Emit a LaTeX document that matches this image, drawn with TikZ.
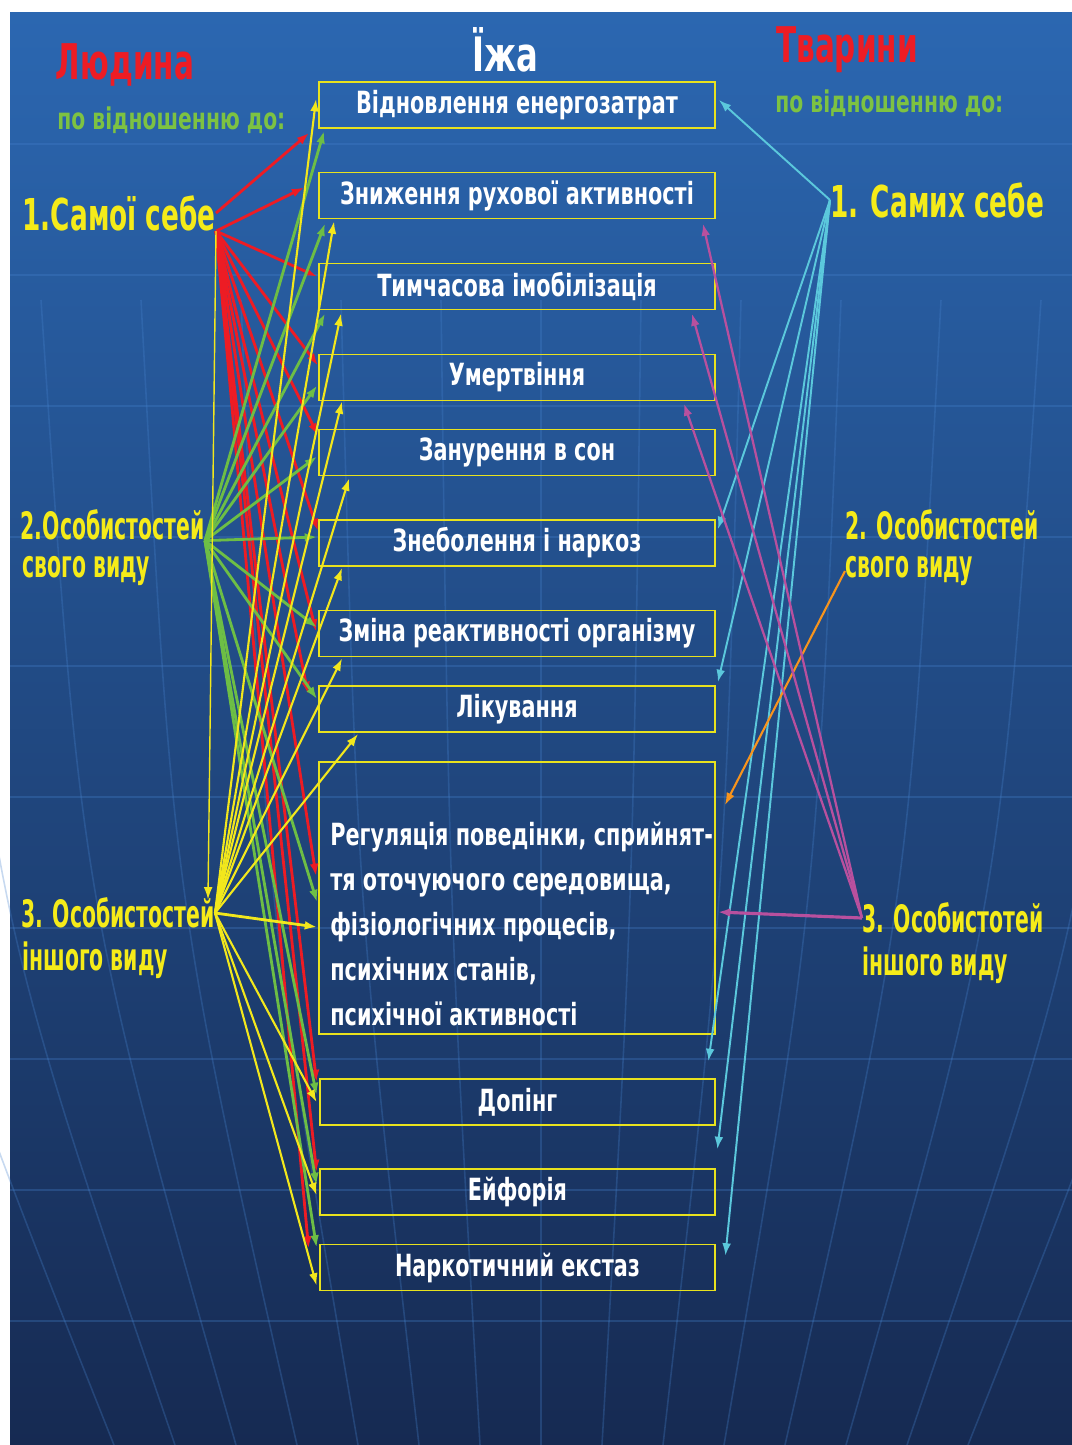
\documentclass[tikz,border=0pt]{standalone}
\usepackage{fontspec}
\setmainfont{DejaVu Sans}[FakeStretch=0.68]
\newfontfamily\narrowfont{DejaVu Sans}[FakeStretch=0.6]
\newfontfamily\slimfont{DejaVu Sans}[FakeStretch=0.54]
\usetikzlibrary{arrows.meta,calc}

\definecolor{bgtop}{RGB}{43,103,177}
\definecolor{bgmid}{RGB}{16,78,155}
\definecolor{bgbot}{RGB}{22,42,82}
\definecolor{gridblue}{RGB}{70,130,205}
\definecolor{boxline}{RGB}{232,226,30}
\definecolor{labyellow}{RGB}{245,235,25}
\definecolor{hdrred}{RGB}{237,28,36}
\definecolor{subgreen}{RGB}{125,194,66}
\definecolor{arrred}{RGB}{237,28,36}
\definecolor{arrgreen}{RGB}{109,190,69}
\definecolor{arryellow}{RGB}{242,231,28}
\definecolor{arrcyan}{RGB}{91,200,220}
\definecolor{arrmag}{RGB}{184,80,158}
\definecolor{arrorange}{RGB}{247,148,29}

\begin{document}
\begin{tikzpicture}[
    x=0.02cm, y=-0.02cm,
    >={Latex[length=7pt,width=5pt]},
    box/.style={rectangle, draw=boxline, line width=1.1pt, minimum width=7.92cm, minimum height=0.92cm, text=white, font=\bfseries\fontsize{17.4}{20}\selectfont},
    boxtext/.style={text=white, align=left, inner sep=0pt, font=\bfseries\fontsize{17.4}{25.6}\selectfont},
    title/.style={text=white, inner sep=0pt, font=\bfseries\fontsize{27}{30}\selectfont},
    hdr/.style={text=hdrred, inner sep=0pt, font=\narrowfont\bfseries\fontsize{28}{30}\selectfont},
    sub/.style={text=subgreen, inner sep=0pt, anchor=west, font=\bfseries\fontsize{17}{19}\selectfont},
    who/.style={text=labyellow, inner sep=0pt, font=\slimfont\bfseries\fontsize{21.5}{25}\selectfont},
    bigwho/.style={who, font=\narrowfont\bfseries\fontsize{25}{28}\selectfont},
    gridline/.style={gridblue, line width=0.9pt, opacity=0.3},
    redarr/.style={->, draw=arrred, line width=1.6pt},
    greenarr/.style={->, draw=arrgreen, line width=1.6pt},
    yelarr/.style={->, draw=arryellow, line width=1.2pt},
    cyanarr/.style={->, draw=arrcyan, line width=1.1pt},
    magarr/.style={->, draw=arrmag, line width=1.3pt},
    orgarr/.style={->, draw=arrorange, line width=1.2pt}
]
\useasboundingbox (0,0) rectangle (1072,1445);

% background
\shade[top color=bgtop, middle color=bgmid, bottom color=bgbot] (10,12) rectangle (1072,1445);
\foreach \y in {144,275,406,537,666,797,928,1059,1190,1321}
  \draw[gridline] (10,\y) -- (1072,\y);
\foreach \k in {-7,...,7}
  \draw[gridline] ({541+\k*100},300) .. controls ({541+\k*92},900) .. ({541+\k*61},1445);

% headings
\node[title] (food) at (505,50) {Їжа};
\node[hdr] (human) at (125,65) {Людина};
\node[sub] (humrel) at (57,120) {по відношенню до:};
\node[hdr] (animal) at (847,50) {Тварини};
\node[sub] (animrel) at (775,103) {по відношенню до:};

% left labels
\node[bigwho, anchor=east] (s1) at (216,213) {1.Самої себе};
\node[who, anchor=east] (s2) at (205,525) {2.Особистостей};
\node[who, anchor=west] (s2b) at (22,571) {свого виду};
\node[who, anchor=east] (s3) at (215,913) {3. Особистостей};
\node[who, anchor=west] (s3b) at (22,960) {іншого виду};

% right labels
\node[bigwho, anchor=west] (r1) at (830,200) {1. Самих себе};
\node[who, anchor=west] (r2) at (845,525) {2. Особистостей};
\node[who, anchor=west] (r2b) at (845,571) {свого виду};
\node[who, anchor=west] (r3) at (862,918) {3. Особистотей};
\node[who, anchor=west] (r3b) at (862,965) {іншого виду};

% boxes
\node[box] (b1) at (517,105) {Відновлення енергозатрат};
\node[box] (b2) at (517,195.5) {Зниження рухової активності};
\node[box] (b3) at (517,286.5) {Тимчасова імобілізація};
\node[box] (b4) at (517,377.5) {Умертвіння};
\node[box] (b5) at (517,452.5) {Занурення в сон};
\node[box] (b6) at (517,543) {Знеболення і наркоз};
\node[box] (b7) at (517,633.5) {Зміна реактивності організму};
\node[box] (b8) at (517,709) {Лікування};
\node[box, minimum height=5.44cm] (b9) at (517,898) {};
\node[boxtext, anchor=west] (b9txt) at (330,924) {Регуляція поведінки, сприйнят-\\тя оточуючого середовища,\\фізіологічних процесів,\\психічних станів,\\психічної активності};
\node[box] (b10) at (517.5,1102) {Допінг};
\node[box] (b11) at (517.5,1192) {Ейфорія};
\node[box] (b12) at (517.5,1267.5) {Наркотичний екстаз};

% червоні: самої себе
\draw[redarr] (s1.east) -- ($(b1.south west)+(-9,4)$);
\draw[redarr] (s1.south east) -- ($(b2.west)+(-14,-8)$);
\draw[redarr] (s1.south east) -- ($(b3.north west)+(-1,14)$);
\draw[redarr] (s1.south east) -- ($(b4.north west)+(0,12)$);
\draw[redarr] (s1.south east) -- ($(b5.north west)+(0,7)$);
\draw[redarr] (s1.south east) -- ($(b6.north west)+(0,12)$);
\draw[redarr] (s1.south east) -- ($(b7.north west)+(-2,22)$);
\draw[redarr] (s1.south east) -- ($(b8.north west)+(-10,9)$);
\draw[redarr] (s1.south east) -- ($(b9.north west)+(-2,115)$);
\draw[redarr] (s1.south east) -- ($(b10.north west)+(-2,4)$);
\draw[redarr] (s1.south east) -- ($(b11.north west)+(-2,4)$);
\draw[redarr] (s1.south east) -- ($(b12.north west)+(-10,5)$);

% зелені: свого виду
\draw[greenarr] (s2.south east) -- ($(b1.south west)+(6,2)$);
\draw[greenarr] (s2.south east) -- ($(b2.south west)+(7,4)$);
\draw[greenarr] (s2.south east) -- ($(b3.south west)+(7,3)$);
\draw[greenarr] (s2.south east) -- ($(b4.north west)+(-1,32)$);
\draw[greenarr] (s2.south east) -- ($(b5.north west)+(-1,28)$);
\draw[greenarr] (s2.south east) -- ($(b6.west)+(-1,-6)$);
\draw[greenarr] (s2.south east) -- ($(b7.north west)+(-1,18)$);
\draw[greenarr] (s2.south east) -- ($(b8.north west)+(-1,14)$);
\draw[greenarr] (s2.south east) -- ($(b9.north west)+(-1,141)$);
\draw[greenarr] (s2.south east) -- ($(b10.north west)+(-2,17)$);
\draw[greenarr] (s2.south east) -- ($(b11.north west)+(-2,17)$);
\draw[greenarr] (s2.south east) -- ($(b12.north west)+(-2,4)$);

% жовті: іншого виду
\draw[yelarr] (s3.east) -- ($(b1.north west)+(-2,18)$);
\draw[yelarr] (s3.east) -- ($(b2.south west)+(16,2)$);
\draw[yelarr] (s3.east) -- ($(b3.south west)+(23,3)$);
\draw[yelarr] (s3.east) -- ($(b4.south west)+(24,0)$);
\draw[yelarr] (s3.east) -- ($(b5.south west)+(31,2)$);
\draw[yelarr] (s3.east) -- ($(b6.south west)+(24,1)$);
\draw[yelarr] (s3.east) -- ($(b7.south west)+(24,1)$);
\draw[yelarr] (s3.east) -- ($(b8.south west)+(40,1)$);
\draw[yelarr, line width=1.6pt] (s3.east) -- ($(b9.north west)+(-1,166)$);
\draw[yelarr] (s3.east) -- ($(b10.north west)+(-2,24)$);
\draw[yelarr] (s3.east) -- ($(b11.north west)+(-2,27)$);
\draw[yelarr] (s3.east) -- ($(b12.south west)+(-2,-6)$);
\draw[yelarr, line width=0.8pt] (s1.south east) -- ($(s3.north east)+(-7,2)$);

% тварини
\draw[cyanarr] (r1.west) -- ($(b1.east)+(3,-5)$);
\draw[cyanarr] (r1.west) -- ($(b6.north east)+(2,10)$);
\draw[cyanarr] (r1.west) -- ($(b8.north east)+(2,-3)$);
\draw[cyanarr] (r1.west) -- ($(b10.north east)+(-8,-17)$);
\draw[cyanarr] (r1.west) -- ($(b11.north east)+(1,-19)$);
\draw[cyanarr] (r1.west) -- ($(b12.north east)+(9,12)$);

\draw[orgarr] (r2b.west) -- ($(b9.north east)+(9,44)$);

\draw[magarr] (r3.west) -- ($(b2.south east)+(-13,4)$);
\draw[magarr] (r3.west) -- ($(b3.south east)+(-24,3)$);
\draw[magarr] (r3.west) -- ($(b4.south east)+(-32,2)$);
\draw[magarr, line width=1.8pt] (r3.west) -- ($(b9.east)+(2,14)$);

\end{tikzpicture}
\end{document}
